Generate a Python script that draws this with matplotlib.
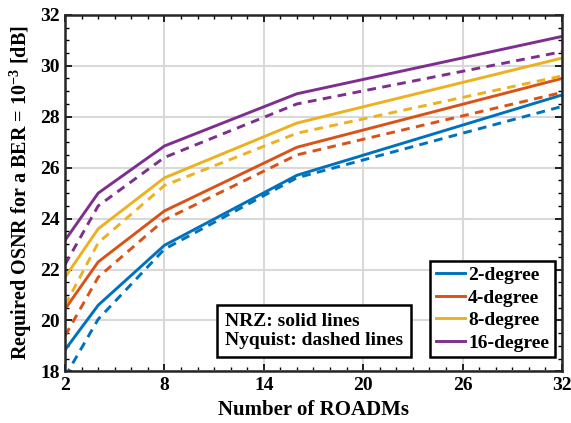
import matplotlib
matplotlib.use('Agg')
import matplotlib.pyplot as plt
from matplotlib.ticker import MultipleLocator

# data
roadms = [2, 4, 8, 16, 32]
labels = ['2-degree', '4-degree', '8-degree', '16-degree']
colors = ['#0072BD', '#D95319', '#EDB120', '#7E2F8E']

nrz_2 = [18.85, 20.6, 22.95, 25.7, 28.85]
nrz_4 = [20.45, 22.3, 24.3, 26.8, 29.5]
nrz_8 = [21.7, 23.6, 25.6, 27.75, 30.3]
nrz_16 = [23.15, 25.0, 26.85, 28.9, 31.15]

nyq_2 = [17.8, 20.05, 22.8, 25.6, 28.4]
nyq_4 = [19.4, 21.7, 23.95, 26.5, 28.95]
nyq_8 = [20.6, 23.05, 25.3, 27.35, 29.6]
nyq_16 = [22.2, 24.5, 26.4, 28.5, 30.55]

nrz = [nrz_2, nrz_4, nrz_8, nrz_16]
nyq = [nyq_2, nyq_4, nyq_8, nyq_16]

plt.rcParams['font.family'] = ['Liberation Serif', 'DejaVu Serif']
plt.rcParams['font.weight'] = 'bold'
plt.rcParams['mathtext.fontset'] = 'custom'
plt.rcParams['mathtext.rm'] = 'Liberation Serif:bold'
plt.rcParams['mathtext.it'] = 'Liberation Serif:bold'
plt.rcParams['mathtext.bf'] = 'Liberation Serif:bold'

fig = plt.figure(figsize=(5.71, 4.23), dpi=100)
ax = fig.add_axes([0.114, 0.122, 0.870, 0.843])

for i in range(4):
    ax.plot(roadms, nrz[i], color=colors[i], lw=2.1, label=labels[i])
    ax.plot(roadms, nyq[i], color=colors[i], lw=2.1, ls=(0, (3, 2.2)))

ax.set_xlim(2, 32)
ax.set_ylim(18, 32)
ax.set_xticks([2, 8, 14, 20, 26, 32])
ax.set_yticks(range(18, 33, 2))
ax.xaxis.set_minor_locator(MultipleLocator(1))
ax.yaxis.set_minor_locator(MultipleLocator(0.5))
ax.grid(True, which='major', color='#d9d9d9', lw=1.5)
ax.set_axisbelow(True)
ax.tick_params(which='both', direction='in', top=True, right=True, labelsize=14, pad=4)
ax.tick_params(which='major', length=5, width=1.2)
ax.tick_params(which='minor', length=3, width=1.0)
for s in ax.spines.values():
    s.set_linewidth(1.8)
    s.set_color('#262626')

ax.set_xlabel('Number of ROADMs', fontsize=15, fontweight='bold', labelpad=4)
ax.set_ylabel('Required OSNR for a BER = 10$^{-3}$ [dB]', fontsize=14.5, fontweight='bold',
              labelpad=4)

leg = ax.legend(loc='lower right', bbox_to_anchor=(0.986, 0.039), borderaxespad=0,
                fontsize=14, handlelength=1.5, handletextpad=0.15,
                labelspacing=0.25, borderpad=0.3, fancybox=False,
                framealpha=1, edgecolor='black')
leg.get_frame().set_linewidth(1.8)

ax.text(0.322, 0.062, 'NRZ: solid lines\nNyquist: dashed lines', transform=ax.transAxes,
        fontsize=14, fontweight='bold', ha='left', va='bottom', linespacing=1.2,
        bbox=dict(boxstyle='square,pad=0.4', fc='white', ec='black', lw=1.8))

fig.savefig('out.png', dpi=100)
